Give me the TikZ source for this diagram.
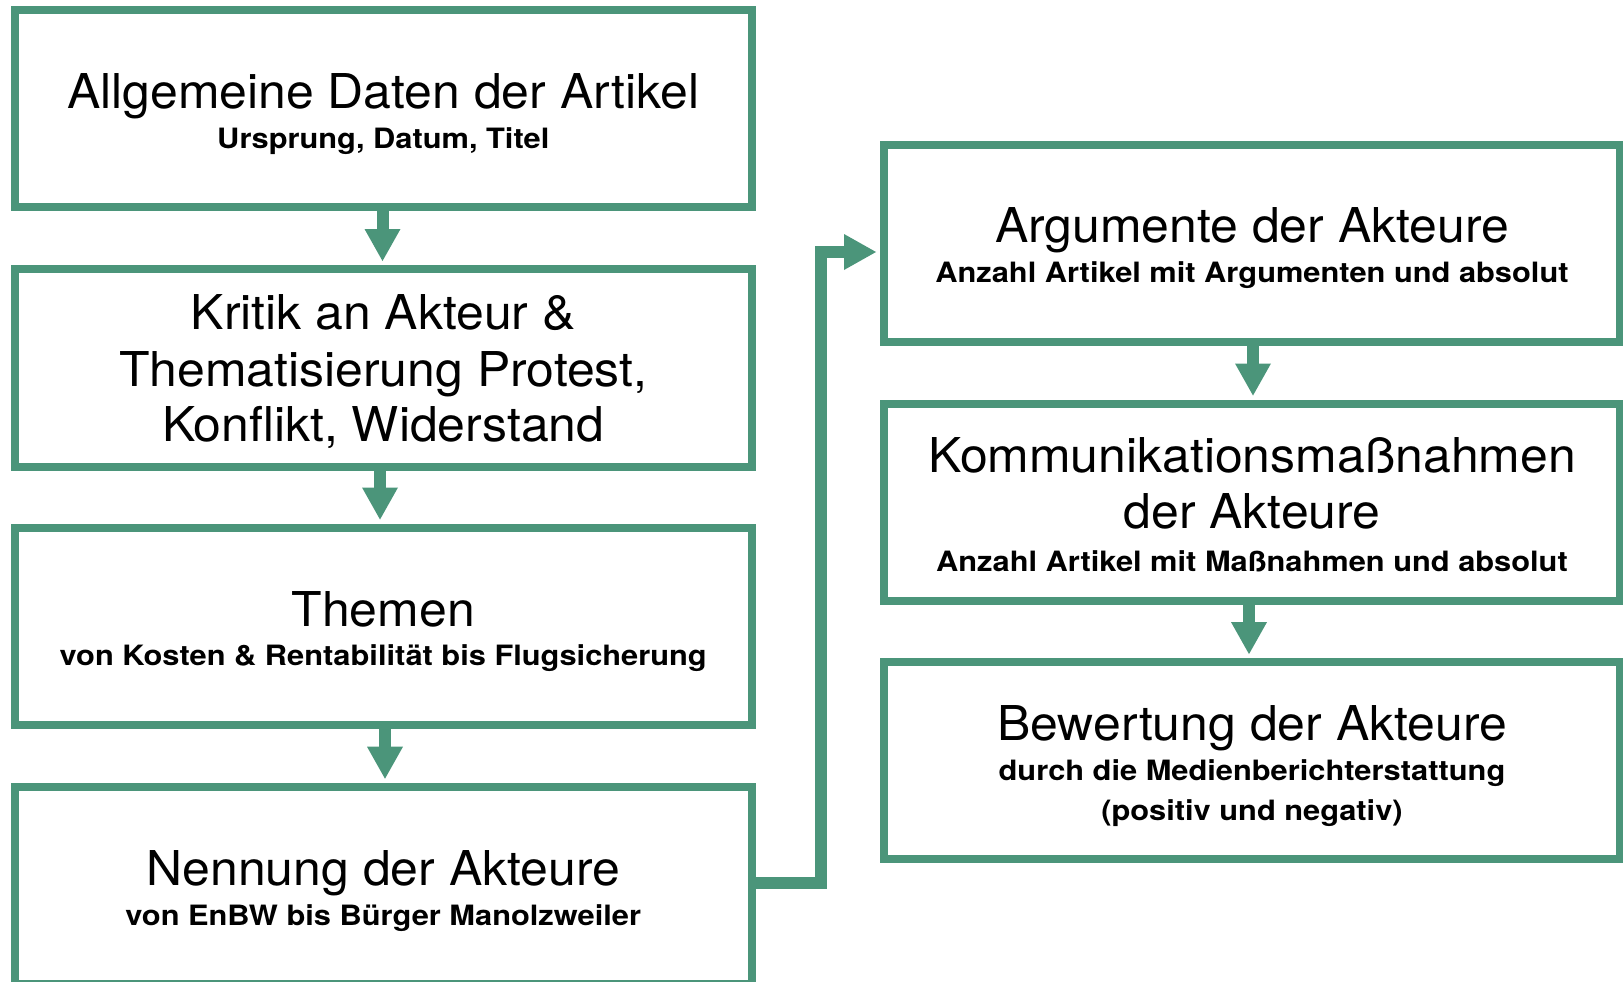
\documentclass[tikz,border=0pt]{standalone}
\usepackage{fontspec}
\setmainfont{TeX Gyre Heros}
\newfontfamily\headfont{TeX Gyre Heros}[FakeStretch=1.04]
\newfontfamily\subfont{TeX Gyre Heros}[FakeStretch=1.1]
\usetikzlibrary{arrows.meta}
\definecolor{flowgreen}{RGB}{75,149,122}

\tikzset{
  box/.style={draw=flowgreen, line width=8pt, minimum width=737pt,
    minimum height=197pt, inner sep=0pt, fill=white},
  head/.style={font=\headfont\fontsize{48}{57}\selectfont, anchor=base, inner sep=0pt},
  sub/.style={font=\subfont\bfseries\fontsize{28}{33}\selectfont, anchor=base, inner sep=0pt},
  conn/.style={draw=flowgreen, line width=12pt, line join=miter,
    -{Triangle[width=36pt,length=32pt,line width=0pt]}},
}

\begin{document}
\begin{tikzpicture}[x=1pt, y=-1pt]
\useasboundingbox (0,0) rectangle (1623,982);

% left column
\node[box] (allg) at (383.25,108.5) {};
\node[box, minimum height=197.7pt] (krit) at (383.25,367.85) {};
\node[box] (them) at (383.25,626) {};
\node[box] (nenn) at (383.25,885.2) {};

% right column
\node[box, minimum width=736pt] (argu) at (1252,243.25) {};
\node[box, minimum width=736pt] (komm) at (1252,502) {};
\node[box, minimum width=736pt] (bewe) at (1252,760.6) {};

% texts
\node[head] (allg-t) at (383.25,109) {Allgemeine Daten der Artikel};
\node[sub]  (allg-s) at (383.25,148.3) {Ursprung, Datum, Titel};

\node[head] (krit-a) at (383.25,329.3) {Kritik an Akteur \&};
\node[head] (krit-b) at (383.25,386) {Thematisierung Protest,};
\node[head] (krit-c) at (383.25,441.7) {Konflikt, Widerstand};

\node[head] (them-t) at (383.25,626.6) {Themen};
\node[sub]  (them-s) at (383.25,665.6) {von Kosten \& Rentabilität bis Flugsicherung};

\node[head] (nenn-t) at (383.25,885) {Nennung der Akteure};
\node[sub]  (nenn-s) at (383.25,925.6) {von EnBW bis Bürger Manolzweiler};

\node[head] (argu-t) at (1252,242.7) {Argumente der Akteure};
\node[sub]  (argu-s) at (1252,282.6) {Anzahl Artikel mit Argumenten und absolut};

\node[head] (komm-a) at (1252,472.7) {Kommunikationsmaßnahmen};
\node[head] (komm-b) at (1252,528.3) {der Akteure};
\node[sub]  (komm-s) at (1252,571.7) {Anzahl Artikel mit Maßnahmen und absolut};

\node[head] (bewe-t) at (1252,740.7) {Bewertung der Akteure};
\node[sub]  (bewe-a) at (1252,780.7) {durch die Medienberichterstattung};
\node[sub]  (bewe-b) at (1252,820) {(positiv und negativ)};

% connectors
\draw[conn] ([xshift=-0.75pt]allg.south) -- ([xshift=-0.75pt,yshift=4pt]krit.north);
\draw[conn] ([xshift=-3.25pt]krit.south) -- ([xshift=-3.25pt,yshift=4pt]them.north);
\draw[conn] ([xshift=1.75pt]them.south) -- ([xshift=1.75pt,yshift=4pt]nenn.north);
\draw[conn] ([xshift=1pt]argu.south) -- ([xshift=1pt,yshift=4pt]komm.north);
\draw[conn] ([xshift=-3pt]komm.south) -- ([xshift=-3pt,yshift=4pt]bewe.north);

\coordinate (elbow-start) at ([yshift=2.2pt]nenn.east);
\coordinate (elbow-end) at ([xshift=-4pt,yshift=-8.75pt]argu.west);
\draw[conn] (elbow-start) -- ++(65.5,0) |- (elbow-end);
\end{tikzpicture}
\end{document}
